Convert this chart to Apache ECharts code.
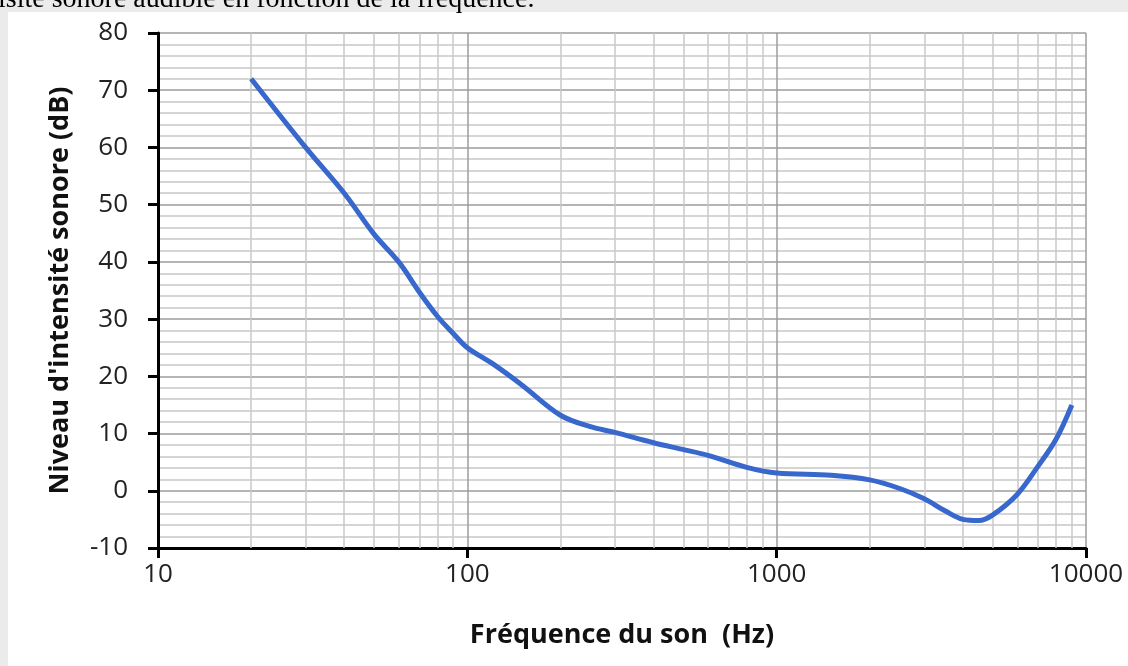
<!DOCTYPE html>
<html>
<head>
<meta charset="utf-8">
<script src="https://cdn.jsdelivr.net/npm/echarts@6/dist/echarts.min.js"></script>
<style>
  html, body { margin: 0; padding: 0; background: #ebebeb; }
  #panel { position: absolute; left: 8px; top: 12px; width: 1120px; height: 654px; background: #ffffff; }
  #chart { position: absolute; left: 0; top: 0; width: 1128px; height: 666px; }
</style>
</head>
<body>
<div id="panel"></div>
<div id="chart"></div>
<script>
// Frequencies (Hz)
const frequencies = [20, 30, 40, 50, 60, 70, 80, 90, 100, 120, 150, 200, 250, 300, 400, 500, 600, 800, 1000, 1500, 2000, 2500, 3000, 3500, 4000, 4500, 5000, 6000, 7000, 8000, 9000];
// Sound level threshold (dB)
const levels = [72, 60, 52, 44.8, 40, 34.7, 30.5, 27.5, 25, 22.3, 18.5, 13.2, 11.2, 10.2, 8.4, 7.2, 6.2, 4.1, 3.1, 2.7, 1.9, 0.4, -1.4, -3.5, -5.0, -5.2, -4.2, -0.6, 4.3, 9.0, 15];
// Minor vertical grid positions (log decades 2..9)
const minorFreqs = [20, 30, 40, 50, 60, 70, 80, 90, 200, 300, 400, 500, 600, 700, 800, 900, 2000, 3000, 4000, 5000, 6000, 7000, 8000, 9000];
const xTitle = 'Fréquence du son  (Hz)';
const yTitle = "Niveau d'intensité sonore (dB)";
const caption = 'isité sonore audible en fonction de la fréquence.';

const chart = echarts.init(document.getElementById('chart'), null, { renderer: 'canvas' });
const labelFont = 'Open Sans';

chart.setOption({
  animation: false,
  backgroundColor: 'transparent',
  graphic: [{
    type: 'text',
    left: -2,
    top: -14,
    style: { text: caption, font: '28px "Liberation Serif"', fill: '#000' }
  }],
  grid: { left: 158, right: 42, top: 33, bottom: 118, containLabel: false },
  xAxis: {
    type: 'log',
    logBase: 10,
    min: 10,
    max: 10000,
    name: xTitle,
    nameLocation: 'middle',
    nameGap: 74,
    nameTextStyle: { fontSize: 27, fontWeight: 'bold', fontFamily: labelFont, color: '#111' },
    axisLine: { show: true, onZero: false, lineStyle: { color: '#000', width: 3 } },
    axisTick: { show: true, inside: false, length: 10, lineStyle: { color: '#000', width: 3 } },
    axisLabel: { fontSize: 26, fontFamily: labelFont, color: '#222', margin: 14, formatter: v => String(Math.round(v)) },
    splitLine: { show: true, lineStyle: { color: '#9c9c9c', width: 1.5 } }
  },
  yAxis: {
    type: 'value',
    min: -10,
    max: 80,
    interval: 10,
    name: yTitle,
    nameLocation: 'middle',
    nameGap: 84,
    nameTextStyle: { fontSize: 27, fontWeight: 'bold', fontFamily: labelFont, color: '#111' },
    axisLine: { show: true, onZero: false, lineStyle: { color: '#000', width: 3 } },
    axisTick: { show: true, length: 10, lineStyle: { color: '#000', width: 3 } },
    axisLabel: { fontSize: 26, fontFamily: labelFont, color: '#222', margin: 30 },
    splitLine: { show: true, lineStyle: { color: '#9c9c9c', width: 1.5 } },
    minorTick: { show: false, splitNumber: 5 },
    minorSplitLine: { show: true, lineStyle: { color: '#c8c8c8', width: 1.5 } }
  },
  series: [
    {
      type: 'line',
      data: [],
      z: 1,
      silent: true,
      markLine: {
        silent: true,
        symbol: ['none', 'none'],
        label: { show: false },
        lineStyle: { color: '#c8c8c8', width: 1.5, type: 'solid' },
        data: minorFreqs.map(f => ({ xAxis: f }))
      }
    },
    {
      type: 'line',
      z: 5,
      smooth: 0.35,
      symbol: 'none',
      lineStyle: { color: '#3868cc', width: 5 },
      data: frequencies.map((f, i) => [f, levels[i]])
    }
  ]
});
</script>
</body>
</html>
